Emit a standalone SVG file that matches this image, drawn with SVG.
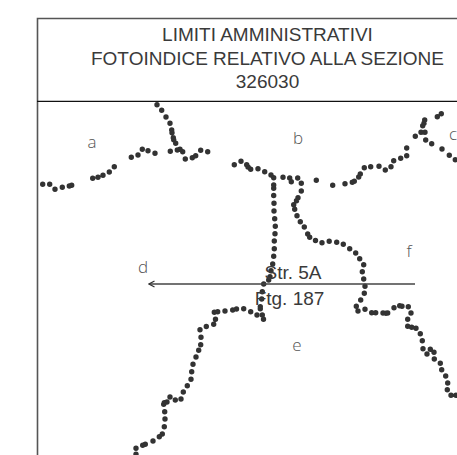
<svg xmlns="http://www.w3.org/2000/svg" width="457" height="455" viewBox="0 0 457 455">
<style>
.dots{fill:none;stroke:#333;stroke-width:5.4;stroke-linecap:round}
.t{font-family:"Liberation Sans",Arial,sans-serif;font-size:19px;fill:#3a3a3a;text-anchor:middle}
.l{font-family:"Open Sans","Liberation Sans",sans-serif;font-size:17px;fill:#555;text-anchor:middle;font-weight:300}
</style>
<defs><marker id="ah" markerWidth="9" markerHeight="9" refX="7.5" refY="4.5" orient="auto" markerUnits="userSpaceOnUse"><path d="M2 1.5L7.5 4.5L2 7.5" fill="none" stroke="#333" stroke-width="1.2"/></marker></defs>
<rect width="457" height="455" fill="#fff"/>
<g id="frame">
<path d="M37.5 455V18.5H457" fill="none" stroke="#555" stroke-width="1.6"/>
<path d="M37 101.3H457" fill="none" stroke="#111" stroke-width="1.2"/>
</g>
<g id="title">
<text class="t" x="267.5" y="41">LIMITI AMMINISTRATIVI</text>
<text class="t" x="267.5" y="65">FOTOINDICE RELATIVO ALLA SEZIONE</text>
<text class="t" x="267.5" y="88">326030</text>
</g>
<g id="boundaries">
<path class="dots" d="M42.7 184.3h0M49.7 184.3h0M55 189.3h0M62.3 187.3h0M69.3 186h0M71.7 185.3h0M92.7 178.3h0M98 177.3h0M103 175.3h0M109.3 172h0M114.3 166.7h0M131.3 157.3h0M138 155h0M142.3 149.3h0M148 150.7h0M155 153.3h0"/>
<path class="dots" d="M157 104.7h0M161.7 110.3h0M166 117h0M170 123.3h0M171.7 130h0M172 132.7h0M173.3 137.7h0M173.7 139.7h0M175.7 143.3h0M170.3 151.3h0M177.3 150h0M180 149.3h0M182.7 151.7h0M185.3 159h0M192.3 157.7h0M195.7 155.7h0M200.7 150.3h0M207.7 151.7h0"/>
<path class="dots" d="M234.3 164.7h0M241 161.3h0M246.7 164.7h0M248 167h0M250.7 169.3h0M258 168.7h0M264.7 171.7h0M271 175h0M273.7 177.7h0M283 177.3h0M289.7 178h0M291.3 181.7h0M297.7 178h0M316.3 180.3h0"/>
<path class="dots" d="M273.7 185h0M273.7 188.3h0M273.7 195.5h0M274 203.3h0M274 211h0M274.7 218.7h0M275.3 226.3h0M275 233.7h0M274.3 241h0M274.3 248.7h0M273.7 256.3h0M272.7 264h0M271 270.7h0M270 276.7h0M268.7 280h0M263.7 284h0M262.3 291.7h0M261.7 299h0M260.3 306.7h0M260.3 308.7h0M262.3 315h0M263.5 319.3h0"/>
<path class="dots" d="M257 315h0M250.7 311.8h0M243.7 308.7h0M236.5 309h0M232.7 310h0M225 311h0M217.7 311.8h0M214.3 312.3h0M215.5 319.2h0M213.7 324.3h0M206.3 326.5h0M200 329.7h0M201 337.3h0M200.7 344.7h0M198.7 350.3h0M196 357h0M193 364.3h0M191.7 371.7h0M191 379.3h0M187.3 385.7h0M183.3 392h0M181 399h0M175.3 400h0M170 397h0M167 402h0M164.3 402.7h0M163.7 404.3h0M164.7 411.7h0M165 419h0M164.3 426.7h0M162.3 434h0M159.3 436.7h0M153 441h0M145.3 444.3h0M142.7 445.3h0M136 448.3h0M136 454.3h0"/>
<path class="dots" d="M301.3 183.3h0M301.3 191h0M298 197.7h0M296.5 200.7h0M293.7 204.8h0M294.7 209.2h0M297 215.7h0M300.3 221.7h0M304.3 227h0M307.7 234h0M309.7 237.3h0M315.5 240.5h0M322 242.7h0M329.2 241.2h0M336.7 242.3h0M343.3 244.3h0M349.7 248.7h0M355.7 253h0M359.7 258.7h0M363.7 264.7h0M362.3 271.7h0M363.7 279h0M365 286.3h0M364.3 293.3h0M360.7 300h0M356.3 306.3h0M358 311h0M365 309.3h0M371.7 312.7h0M375.7 312.7h0M383 313h0M386 313.3h0M387.7 313h0M394 307.7h0M399.7 305.7h0M402 306.3h0M408.3 306.7h0M411 313h0M407.7 319.3h0M407.7 326.3h0M411.7 327.3h0M416 328.3h0M420.3 333.7h0M422.3 340.7h0M423 348.7h0M427 354h0M430.3 349.3h0M434 352.3h0M434.3 359h0M440.3 363.3h0M441.7 369.7h0M445.7 376h0M447.7 383h0M447.3 389.7h0M451 395.3h0M456 395.3h0"/>
<path class="dots" d="M332.7 185.3h0M345 183.7h0M352.3 182.3h0M354.3 181.3h0M358.7 177h0M360.3 174h0M364.3 167.7h0M370.7 166.7h0M379 166.3h0M385.3 170h0M391 166.7h0M393.7 160.7h0M400.7 158.3h0M406.7 155.7h0M406.7 148h0M415.3 136.3h0M421 132.3h0M425 132.3h0M425.7 140h0M431.7 143.7h0M442 149h0M449.3 155.3h0M455.3 159.7h0"/>
<path class="dots" d="M422.7 125.7h0M424 123.3h0M424.7 120h0M437.3 116.7h0M441.3 113.7h0"/>
</g>
<g id="connectors">
<path d="M415 284H149" fill="none" stroke="#444" stroke-width="1.3" marker-end="url(#ah)"/>
</g>
<g id="labels">
<text class="l" x="92" y="148">a</text>
<text class="l" x="298" y="144">b</text>
<text class="l" x="457" y="140" style="text-anchor:end">c</text>
<text class="l" x="143" y="273">d</text>
<text class="l" x="297" y="351">e</text>
<text class="l" x="409" y="257">f</text>
<text class="t" x="293" y="279">Str. 5A</text>
<text class="t" x="289.5" y="305">Ftg. 187</text>
</g>
</svg>
